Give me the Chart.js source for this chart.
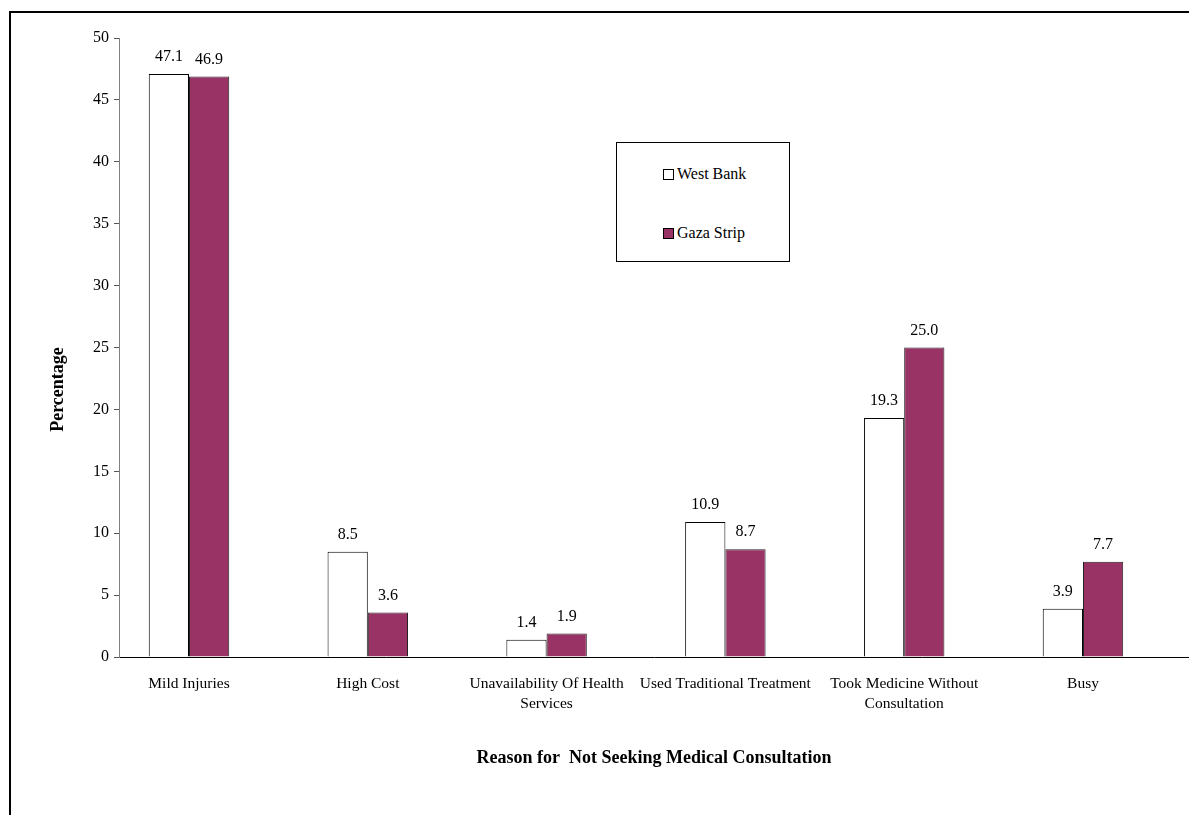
<!DOCTYPE html>
<html lang="en">
<head>
    <meta charset="UTF-8">
    <title>Reason for Not Seeking Medical Consultation</title>
    <script src="https://cdn.jsdelivr.net/npm/chart.js"></script>
    <style>
        html, body { margin: 0; padding: 0; background: #fff; overflow: hidden; }
        #wrap { position: relative; width: 1189px; height: 815px; }
        #frame {
            position: absolute; left: 9px; top: 11px; width: 1300px; height: 900px;
            border: 2px solid #000; box-sizing: border-box; pointer-events: none;
        }
        #grafico { position: absolute; left: 0; top: 0; }
        #leyenda {
            position: absolute; left: 616px; top: 142px; width: 174px; height: 120px;
            border: 1px solid #000; box-sizing: border-box; background: #fff;
            font-family: "Liberation Serif", "Times New Roman", serif; font-size: 16px; color: #000;
        }
        .item { position: absolute; left: 46px; display: flex; align-items: center; line-height: 18px; }
        .caja { width: 11px; height: 11px; border: 1px solid #000; box-sizing: border-box; margin-right: 3px; }
    </style>
</head>
<body>
    <div id="wrap">
        <canvas id="grafico" width="1189" height="815"></canvas>
        <div id="leyenda"></div>
        <div id="frame"></div>
    </div>

    <script>
        const categorias = [
            "Mild Injuries",
            "High Cost",
            ["Unavailability Of Health", "Services"],
            "Used Traditional Treatment",
            ["Took Medicine Without", "Consultation"],
            "Busy"
        ];
        const westBank = [47.1, 8.5, 1.4, 10.9, 19.3, 3.9];
        const gazaStrip = [46.9, 3.6, 1.9, 8.7, 25.0, 7.7];
        const nombresSeries = ["West Bank", "Gaza Strip"];
        const coloresSeries = ["#ffffff", "#993366"];
        const tituloY = "Percentage";

        const fuente = '"Liberation Serif", "Times New Roman", serif';

        // etiquetas de valor encima de cada barra
        const etiquetasValor = {
            id: "etiquetasValor",
            afterDatasetsDraw(chart) {
                const ctx = chart.ctx;
                ctx.save();
                ctx.font = "16px " + fuente;
                ctx.fillStyle = "#000";
                ctx.textAlign = "center";
                ctx.textBaseline = "middle";
                chart.data.datasets.forEach((ds, i) => {
                    chart.getDatasetMeta(i).data.forEach((bar, j) => {
                        ctx.fillText(ds.data[j].y.toFixed(1), bar.x, bar.y - 17);
                    });
                });
                ctx.restore();
            }
        };

        // titulo del eje Y, algo mas abajo que el centro del area
        const tituloEjeY = {
            id: "tituloEjeY",
            afterDraw(chart) {
                const ctx = chart.ctx;
                const a = chart.chartArea;
                ctx.save();
                ctx.translate(58, (a.top + a.bottom) / 2 + 42);
                ctx.rotate(-Math.PI / 2);
                ctx.font = "bold 18px " + fuente;
                ctx.fillStyle = "#000";
                ctx.textAlign = "center";
                ctx.textBaseline = "middle";
                ctx.fillText(tituloY, 0, 0);
                ctx.restore();
            }
        };

        const ctx = document.getElementById("grafico").getContext("2d");
        const grafico = new Chart(ctx, {
            type: "bar",
            data: {
                datasets: [
                    {
                        label: nombresSeries[0],
                        data: westBank.map((v, i) => ({ x: i, y: v })),
                        backgroundColor: coloresSeries[0],
                        borderColor: "#000",
                        borderWidth: 1
                    },
                    {
                        label: nombresSeries[1],
                        data: gazaStrip.map((v, i) => ({ x: i, y: v })),
                        backgroundColor: coloresSeries[1],
                        borderColor: "#222",
                        borderWidth: 1
                    }
                ]
            },
            options: {
                responsive: false,
                animation: false,
                layout: { padding: { left: 47, top: 38, right: 0, bottom: 46 } },
                datasets: { bar: { categoryPercentage: 0.45, barPercentage: 1.0 } },
                plugins: {
                    legend: { display: false },
                    tooltip: { enabled: false }
                },
                scales: {
                    x: {
                        type: "linear",
                        offset: false,
                        min: -0.3915,
                        max: 5.593,
                        grid: { display: false, offset: false },
                        border: { color: "#000", width: 1 },
                        afterBuildTicks(scale) {
                            scale.ticks = categorias.map((_, i) => ({ value: i }));
                        },
                        ticks: {
                            color: "#000",
                            padding: 9,
                            maxRotation: 0,
                            autoSkip: false,
                            font: { family: fuente, size: 15.5, lineHeight: 1.3 },
                            callback: (value) => categorias[value]
                        },
                        title: {
                            display: true,
                            text: "Reason for  Not Seeking Medical Consultation",
                            color: "#000",
                            padding: 0,
                            font: { family: fuente, size: 18, weight: "bold" }
                        },
                        afterFit(scale) { scale.height = 112; }
                    },
                    y: {
                        min: 0,
                        max: 50,
                        grid: {
                            display: true,
                            drawOnChartArea: false,
                            drawTicks: true,
                            tickLength: 5,
                            color: "#555"
                        },
                        border: { color: "#808080", width: 1 },
                        ticks: {
                            stepSize: 5,
                            color: "#000",
                            padding: 5,
                            font: { family: fuente, size: 16 }
                        },
                        afterFit(scale) { scale.width = 72; }
                    }
                }
            },
            plugins: [etiquetasValor, tituloEjeY]
        });

        // leyenda dentro del recuadro
        const leyenda = document.getElementById("leyenda");
        const posiciones = [22, 81];
        nombresSeries.forEach((nombre, i) => {
            const item = document.createElement("div");
            item.className = "item";
            item.style.top = posiciones[i] + "px";
            const caja = document.createElement("span");
            caja.className = "caja";
            caja.style.background = coloresSeries[i];
            const texto = document.createElement("span");
            texto.textContent = nombre;
            item.appendChild(caja);
            item.appendChild(texto);
            leyenda.appendChild(item);
        });
    </script>
</body>
</html>
